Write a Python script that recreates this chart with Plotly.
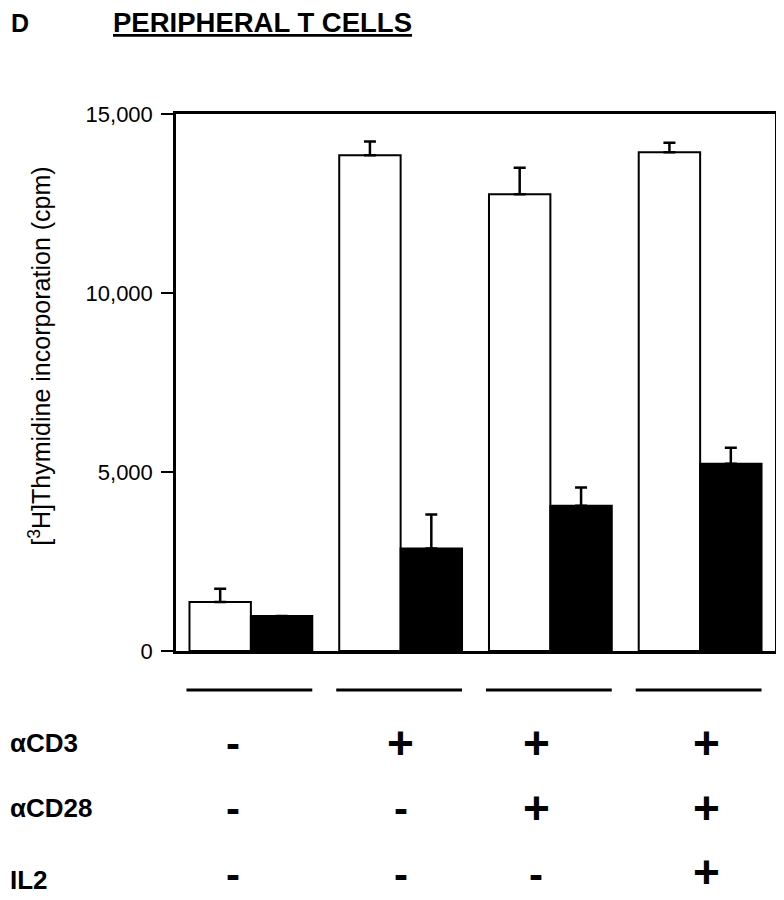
import plotly.graph_objects as go

# ---- data ----
groups = [0, 1, 2, 3]
white_vals = [1370, 13850, 12760, 13930]
white_err = [370, 380, 740, 270]
black_vals = [980, 2860, 4060, 5230]
black_err = [0, 950, 510, 450]
y_ticks = [0, 5000, 10000, 15000]
y_ticklabels = ["0", "5,000", "10,000", "15,000"]
row_labels = ["\u03b1CD3", "\u03b1CD28", "IL2"]
row_signs = [
    ["-", "+", "+", "+"],
    ["-", "-", "+", "+"],
    ["-", "-", "-", "+"],
]

FONT = "Liberation Sans, Arial, Helvetica, sans-serif"

fig = go.Figure()
fig.add_trace(go.Bar(
    x=groups, y=white_vals,
    marker=dict(color="white", line=dict(color="black", width=2)),
    error_y=dict(type="data", symmetric=False, array=white_err,
                 arrayminus=[0] * 4, color="black", thickness=2.5, width=6),
    showlegend=False,
))
fig.add_trace(go.Bar(
    x=groups, y=black_vals,
    marker=dict(color="black", line=dict(color="black", width=2)),
    error_y=dict(type="data", symmetric=False, array=black_err,
                 arrayminus=[0] * 4, color="black", thickness=2.5, width=6),
    showlegend=False,
))

# page body has an 8px margin: compensate
OFF = 8
W, H = 784 - OFF, 900 - OFF
L, R, T, B = 176 - OFF, 6, 114 - OFF, 249
plot_h = H - T - B
plot_w = W - L - R

def py(pix):
    # pix = pixel y in final screenshot
    return (H - B - (pix - OFF)) / plot_h

def px(pix):
    return ((pix - OFF) - L) / plot_w

fig.update_layout(
    width=W, height=H,
    margin=dict(l=L, r=R, t=T, b=B, pad=0),
    paper_bgcolor="white", plot_bgcolor="white",
    barmode="group", bargap=0.18, bargroupgap=0,
    font=dict(family=FONT, color="black"),
    xaxis=dict(range=[-0.5, 3.5], showticklabels=False, ticks="",
               showgrid=False, zeroline=False, showline=True,
               linecolor="black", linewidth=2.5, mirror=True),
    yaxis=dict(range=[0, 15000], tickvals=y_ticks, ticktext=y_ticklabels,
               ticks="outside", ticklen=12, tickwidth=2, tickcolor="black",
               tickfont=dict(size=22, family=FONT), showgrid=False,
               zeroline=False, showline=True, linecolor="black",
               linewidth=2.5, mirror=True, ticklabelstandoff=4),
)

# y-axis title
fig.add_annotation(text="[<sup>3</sup>H]Thymidine incorporation (cpm)",
                   xref="paper", yref="paper", x=px(39), y=py(356),
                   xanchor="center", yanchor="middle", textangle=-90,
                   showarrow=False, font=dict(size=25, family=FONT))

# header
fig.add_annotation(text="<b>D</b>", xref="paper", yref="paper",
                   x=px(8), y=py(23), xanchor="left", yanchor="middle",
                   showarrow=False, font=dict(size=25, family=FONT))
fig.add_annotation(text="<b><u>PERIPHERAL T CELLS</u></b>", xref="paper", yref="paper",
                   x=px(111), y=py(23), xanchor="left", yanchor="middle",
                   showarrow=False, font=dict(size=27.5, family=FONT))

# group underline bars
for g in groups:
    fig.add_shape(type="line", xref="x", yref="paper",
                  x0=g - 0.43, x1=g + 0.41, y0=py(690), y1=py(690),
                  line=dict(color="black", width=3))

# condition table
row_pix = [743, 808, 880]
sign_shift = [-18, 0, -14, 6]
for r, label in enumerate(row_labels):
    fig.add_annotation(text="<b>" + label + "</b>", xref="paper", yref="paper",
                       x=px(7), y=py(row_pix[r]), xanchor="left",
                       yanchor="middle", showarrow=False,
                       font=dict(size=26, family=FONT))
    last = r == len(row_labels) - 1
    for g in groups:
        s = row_signs[r][g]
        txt = "<b>+</b>" if s == "+" else "<b>-</b>"
        size = 46 if s == "+" else 42
        fig.add_annotation(text=txt, xref="x", yref="paper",
                           x=g, xshift=sign_shift[g],
                           y=py(900) if last else py(row_pix[r]),
                           xanchor="center",
                           yanchor="bottom" if last else "middle",
                           showarrow=False, font=dict(size=size, family=FONT))

fig.write_html("out.html")
